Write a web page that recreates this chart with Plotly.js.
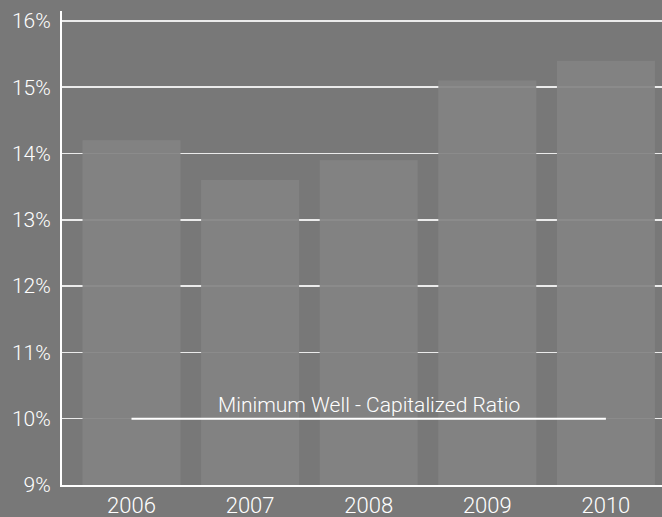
<!DOCTYPE html>
<html>
<head>
<meta charset="utf-8">
<script src="https://cdn.plot.ly/plotly-3.0.1.min.js"></script>
<style>
  html, body { margin: 0; padding: 0; background: #787878; }
  #chart { width: 662px; height: 517px; }
</style>
</head>
<body>
<div id="chart"></div>
<script>
// Capital ratio by year, in percent
const years = ['2006', '2007', '2008', '2009', '2010'];
const capitalRatio = [14.2, 13.6, 13.9, 15.1, 15.4];

// Regulatory minimum for a well-capitalized institution
const minimumRatio = 10;
const minimumLabel = 'Minimum Well - Capitalized Ratio';

// Y axis ticks
const yTickVals = [9, 10, 11, 12, 13, 14, 15, 16];
const yTickText = ['9%', '10%', '11%', '12%', '13%', '14%', '15%', '16%'];

const fontFamily = 'Roboto, "Liberation Sans", sans-serif';
const tickFont = { family: fontFamily, size: 21, color: '#ffffff', weight: 300 };

const bars = {
  type: 'bar',
  x: years,
  y: capitalRatio,
  base: 0,
  width: 0.826,
  marker: { color: 'rgba(131,131,131,0.93)', line: { width: 0 } },
  hoverinfo: 'skip'
};

const minimumLine = {
  type: 'scatter',
  mode: 'lines',
  x: [years[0], years[years.length - 1]],
  y: [minimumRatio, minimumRatio],
  line: { color: '#ffffff', width: 2 },
  hoverinfo: 'skip'
};

const layout = {
  width: 662,
  height: 517,
  margin: { l: 62, r: 0, t: 11, b: 32 },
  paper_bgcolor: '#787878',
  plot_bgcolor: '#787878',
  showlegend: false,
  font: { family: fontFamily, color: '#ffffff' },
  xaxis: {
    type: 'category',
    range: [-0.586, 4.473],
    showgrid: false,
    zeroline: false,
    showline: true,
    linecolor: '#ffffff',
    linewidth: 2,
    ticks: '',
    tickfont: { family: fontFamily, size: 22, color: '#ffffff', weight: 300 },
    ticklabelstandoff: 0
  },
  yaxis: {
    range: [9, 16.15],
    tickvals: yTickVals,
    ticktext: yTickText,
    showgrid: true,
    gridcolor: 'rgba(255,255,255,0.85)',
    gridwidth: 1.5,
    zeroline: false,
    showline: true,
    linecolor: '#ffffff',
    linewidth: 2,
    ticks: '',
    tickfont: tickFont,
    ticklabelstandoff: 5
  },
  annotations: [{
    x: 2,
    y: minimumRatio,
    xref: 'x',
    yref: 'y',
    text: minimumLabel,
    showarrow: false,
    yanchor: 'bottom',
    xanchor: 'center',
    font: { family: fontFamily, size: 21, color: '#ffffff', weight: 300 }
  }]
};

Plotly.newPlot('chart', [bars, minimumLine], layout, { displayModeBar: false, staticPlot: true });
</script>
</body>
</html>
